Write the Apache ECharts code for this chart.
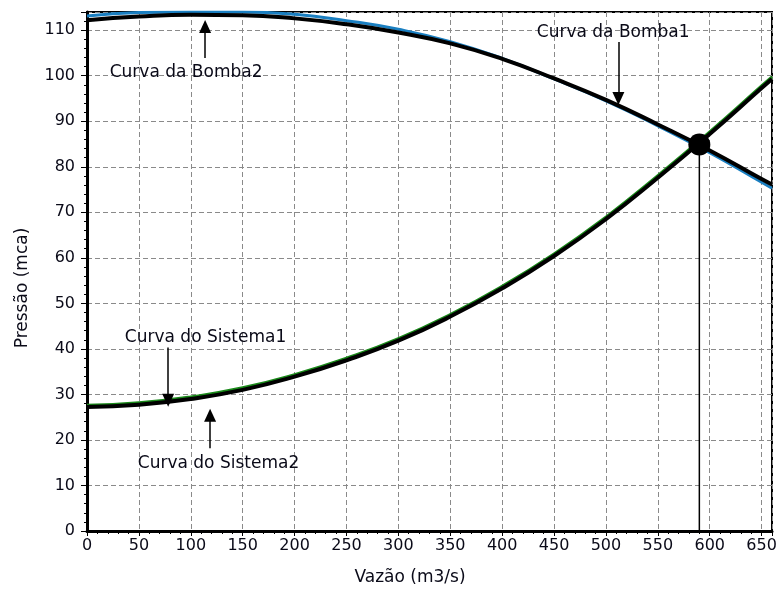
<!DOCTYPE html>
<html>
<head>
<meta charset="utf-8">
<script src="https://cdn.jsdelivr.net/npm/echarts@6/dist/echarts.min.js"></script>
<style>
html,body{margin:0;padding:0;background:#fff;}
#chart{width:781px;height:592px;}
</style>
</head>
<body>
<div id="chart"></div>
<script>
// ---- data ----
var flowQ      = [0, 50, 100, 150, 200, 250, 300, 350, 400, 450, 500, 550, 600, 650, 660];
var bomba1     = [112.2, 113.0, 113.4, 113.3, 112.6, 111.3, 109.5, 107.1, 103.7, 99.4, 94.7, 89.3, 83.6, 77.3, 76.1];
var bomba2     = [113.1, 113.9, 114.0, 114.0, 113.5, 112.1, 110.2, 107.5, 103.8, 99.3, 94.5, 89.0, 83.1, 76.6, 75.3];
var sistema1   = [27.6, 28.15, 29.45, 31.45, 34.35, 37.95, 42.25, 47.55, 53.75, 60.85, 68.95, 78.05, 87.65, 97.75, 99.75];
var sistema2   = [27.25, 27.75, 29.0, 31.0, 33.9, 37.5, 41.8, 47.1, 53.3, 60.4, 68.5, 77.6, 87.2, 97.3, 99.3];
var operatingPoint = [590, 84.9];
var labelTexts = ['Curva da Bomba1', 'Curva da Bomba2', 'Curva do Sistema1', 'Curva do Sistema2'];
var xTitle = 'Vazão (m3/s)';
var yTitle = 'Pressão (mca)';

function pairs(xs, ys){ return xs.map(function(x,i){ return [x, ys[i]]; }); }

// annotation placement (data coordinates)
var labelPos = [[507, 109.4], [95.5, 100.6], [114.2, 42.4], [126.7, 14.9]];
var arrows = [
  [[512, 107.4], [512, 95.0]],
  [[113.8, 103.9], [113.8, 110.8]],
  [[78.2, 40.3], [78.2, 28.7]],
  [[118.6, 18.2], [118.6, 25.4]]
];

var FONT = 'DejaVu Sans';
var TXT = '#0a0a18';

var chart = echarts.init(document.getElementById('chart'), null, {renderer:'canvas'});
var option = {
  animation: false,
  backgroundColor: '#fff',
  grid: {left: 87, right: 9, top: 12, bottom: 61, show: true, borderColor: '#000', borderWidth: 2, backgroundColor: '#fff'},
  xAxis: {
    type: 'value', min: 0, max: 660, interval: 50,
    name: xTitle, nameLocation: 'middle', nameGap: 38,
    nameTextStyle: {fontFamily: FONT, fontSize: 17, color: TXT, padding: [0, 39, 0, 0]},
    axisLine: {show: true, onZero: false, lineStyle: {color: '#000', width: 3}},
    axisTick: {show: true, length: 5, lineStyle: {color: '#000', width: 1}},
    minorTick: {show: true, splitNumber: 5, length: 3, lineStyle: {color: '#000', width: 1}},
    axisLabel: {fontFamily: FONT, fontSize: 16, color: TXT, margin: 7, showMaxLabel: false},
    splitLine: {show: true, lineStyle: {color: '#8a8a8a', width: 1, type: [5, 3]}}
  },
  yAxis: {
    type: 'value', min: 0, max: 114, interval: 10,
    name: yTitle, nameLocation: 'middle', nameGap: 56,
    nameTextStyle: {fontFamily: FONT, fontSize: 17, color: TXT, padding: [0, 33, 0, 0]},
    axisLine: {show: true, onZero: false, lineStyle: {color: '#000', width: 3}},
    axisTick: {show: true, length: 6, lineStyle: {color: '#000', width: 1}},
    minorTick: {show: true, splitNumber: 5, length: 3, lineStyle: {color: '#000', width: 1}},
    axisLabel: {fontFamily: FONT, fontSize: 16, color: TXT, margin: 12, showMaxLabel: false},
    splitLine: {show: true, lineStyle: {color: '#8a8a8a', width: 1, type: [5, 3]}}
  },
  series: [
    {name: 'Bomba2', type: 'line', data: pairs(flowQ, bomba2), smooth: true, showSymbol: false,
     lineStyle: {color: '#1a7fc1', width: 3}, z: 2},
    {name: 'Sistema1', type: 'line', data: pairs(flowQ, sistema1), smooth: true, showSymbol: false,
     lineStyle: {color: '#1a8a1a', width: 3}, z: 2},
    {name: 'Bomba1', type: 'line', data: pairs(flowQ, bomba1), smooth: true, showSymbol: false,
     lineStyle: {color: '#000', width: 4}, z: 3},
    {name: 'Sistema2', type: 'line', data: pairs(flowQ, sistema2), smooth: true, showSymbol: false,
     lineStyle: {color: '#000', width: 4}, z: 3},
    {name: 'vertical', type: 'line', data: [[operatingPoint[0], 0], operatingPoint], showSymbol: false,
     lineStyle: {color: '#000', width: 1.5}, z: 4},
    {name: 'ponto', type: 'scatter', data: [operatingPoint], symbol: 'circle', symbolSize: 22,
     itemStyle: {color: '#000', opacity: 1}, z: 5},
    {name: 'arrows', type: 'line', data: [], z: 6,
     markLine: {silent: true, animation: false, symbol: ['none', 'triangle'], symbolSize: [12, 13],
       lineStyle: {color: '#000', width: 1.5, type: 'solid', opacity: 1}, label: {show: false},
       itemStyle: {color: '#000'},
       data: arrows.map(function(a){ return [{coord: a[0]}, {coord: a[1]}]; })}},
    {name: 'labels', type: 'scatter', symbolSize: 0, z: 7, itemStyle: {opacity: 1},
     data: labelPos.map(function(p, i){ return {value: [p[0], p[1]], name: labelTexts[i]}; }),
     label: {show: true, position: 'inside', formatter: '{b}', fontFamily: FONT, fontSize: 17, color: TXT}}
  ]
};
chart.setOption(option);
</script>
</body>
</html>
